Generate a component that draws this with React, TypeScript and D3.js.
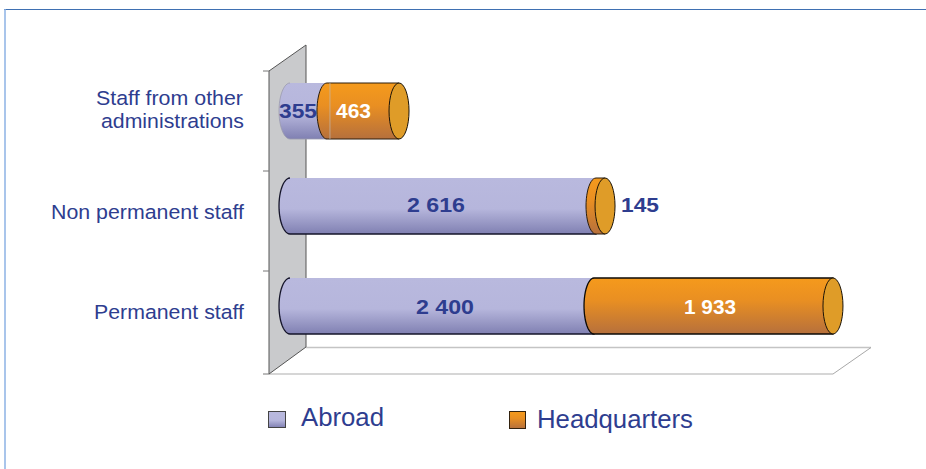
import React from "react";
import * as d3 from "d3";

const categories = ["Staff from other", "Non permanent staff", "Permanent staff"];
const abroadLabels = ["355", "2 616", "2 400"];
const hqLabels = ["463", "145", "1 933"];
// Bar lengths as drawn in the picture (the source chart's lengths differ from its printed labels)
const abroadDrawn = [295, 2442, 2426];
const hqDrawn = [575, 72, 1907];
const rows = [0, 1, 2];
const legendItems = ["Abroad", "Headquarters"];
const tickCount = 4;

const x = d3.scaleLinear().domain([0, 4500]).range([290, 853.9]);
const yRows = [83, 178, 278];
const H = 56, RX = 10, RY = H / 2;
const BLUE = "#2e3d8f";
const FONT = "'Liberation Sans', Arial, sans-serif";

function body(x0: number, x1: number, top: number, rx = RX) {
  const p = d3.path();
  p.moveTo(x0, top);
  const steps = 24;
  for (let i = 1; i <= steps; i++) {
    const a = (Math.PI * i) / steps;
    p.lineTo(x0 - rx * Math.sin(a), top + RY - RY * Math.cos(a));
  }
  p.lineTo(x1, top + H);
  p.lineTo(x1, top);
  p.closePath();
  return p.toString();
}

const fit = { lengthAdjust: "spacingAndGlyphs" as const };

export default function App() {
  const tickYs = [71, 171, 271, 374].slice(0, tickCount);
  return (
    <svg width={926} height={469} style={{ position: "absolute", left: 0, top: 0, background: "#fff" }}>
      <defs>
        <linearGradient id="gA" x1="0" y1="0" x2="0" y2="1">
          <stop offset="0" stopColor="#b9b9de" />
          <stop offset="0.55" stopColor="#b6b6dc" />
          <stop offset="1" stopColor="#8080b2" />
        </linearGradient>
        <linearGradient id="gH" x1="0" y1="0" x2="0" y2="1">
          <stop offset="0" stopColor="#f59a1c" />
          <stop offset="0.4" stopColor="#e98f22" />
          <stop offset="1" stopColor="#b6703c" />
        </linearGradient>
      </defs>

      {/* frame */}
      <line x1={4} y1={9.5} x2={926} y2={9.5} stroke="#3f70b2" strokeWidth={1} />
      <line x1={5} y1={9} x2={5} y2={469} stroke="#8db2e4" strokeWidth={1.5} />

      {/* floor */}
      <path d="M306,347.5 L871,347.5" stroke="#c4c4c4" strokeWidth={1.5} fill="none" />
      <path d="M269,374 L833,374" stroke="#c8c8c8" strokeWidth={1.5} fill="none" />
      <path d="M871,347.5 L833,374" stroke="#a8a8a8" strokeWidth={1} fill="none" />

      {/* wall */}
      <path d="M269,71 L306,45 L306,347 L269,374 Z" fill="#c9cacc" stroke="#555" strokeWidth={1} />
      {tickYs.map((t) => (
        <line key={t} x1={263} x2={269} y1={t} y2={t} stroke="#777" strokeWidth={1} />
      ))}

      {/* bars */}
      {rows.map((i) => {
        const top = yRows[i];
        const x0 = x(0);
        const x1 = x(abroadDrawn[i]);
        const x2 = x(abroadDrawn[i] + hqDrawn[i]);
        const edge = i === 0 ? "#9a9aae" : "#15152a";
        return (
          <g key={i}>
            <path d={body(x0, x1, top, 11)} fill="url(#gA)" stroke="none" />
            <path d={body(x0, x1, top, 11).replace(/Z$/, "")} fill="none" stroke={edge} strokeWidth={i === 0 ? 0.8 : 1.3} />
            <path d={body(x1, x2, top)} fill="url(#gH)" stroke={i === 2 ? "#0c0a06" : "#2a1d0c"} strokeWidth={i === 2 ? 1.3 : 1} />
            <ellipse cx={x2} cy={top + RY} rx={RX} ry={RY} fill="#df9c28" stroke="#1c1408" strokeWidth={1} />
            {i === 0 && <line x1={x1 + 3} x2={x1 + 3} y1={top} y2={top + H} stroke="#c0b8b0" strokeWidth={0.7} />}
          </g>
        );
      })}

      {/* value labels */}
      <g fontFamily={FONT} fontWeight="bold" fontSize={21}>
        <text x={279} y={118} textLength={38} {...fit} fill={BLUE}>{abroadLabels[0]}</text>
        <text x={336} y={118} textLength={35} {...fit} fill="#fff">{hqLabels[0]}</text>
        <text x={407} y={212} textLength={58} {...fit} fill={BLUE}>{abroadLabels[1]}</text>
        <text x={621} y={212} textLength={38} {...fit} fill={BLUE}>{hqLabels[1]}</text>
        <text x={416} y={314} textLength={58} {...fit} fill={BLUE}>{abroadLabels[2]}</text>
        <text x={684} y={314} textLength={52} {...fit} fill="#fff">{hqLabels[2]}</text>
      </g>

      {/* category labels */}
      <g fontFamily={FONT} fontSize={20.5} fill={BLUE}>
        <text x={96} y={104.5} textLength={147} {...fit}>{categories[0]}</text>
        <text x={101} y={127.5} textLength={143} {...fit}>administrations</text>
        <text x={51} y={218.5} textLength={193} {...fit}>{categories[1]}</text>
        <text x={94} y={318.5} textLength={150} {...fit}>{categories[2]}</text>
      </g>

      {/* legend */}
      <rect x={268.5} y={411.5} width={17} height={16} fill="url(#gA)" stroke="#444" strokeWidth={1} />
      <text x={301} y={426} fontFamily={FONT} fontSize={25.5} textLength={83} {...fit} fill={BLUE}>{legendItems[0]}</text>
      <rect x={509.5} y={411.5} width={16} height={17} fill="url(#gH)" stroke="#33220f" strokeWidth={1} />
      <text x={537} y={428} fontFamily={FONT} fontSize={25.5} textLength={156} {...fit} fill={BLUE}>{legendItems[1]}</text>
    </svg>
  );
}
